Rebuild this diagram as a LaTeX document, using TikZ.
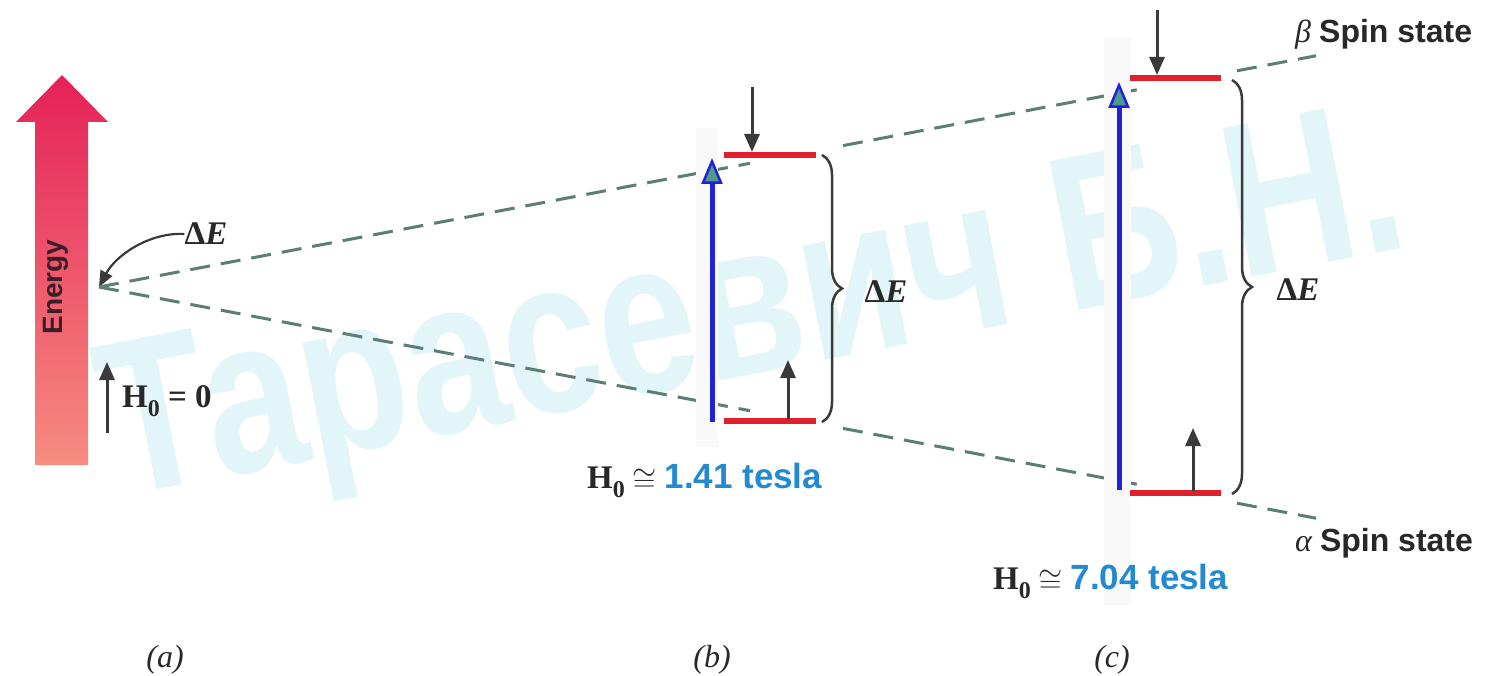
\documentclass[tikz,border=0pt]{standalone}
\usepackage{fontspec}
\setmainfont{Liberation Serif}
\newfontfamily\hel{Liberation Sans}
\usetikzlibrary{arrows.meta,decorations.pathreplacing}
\definecolor{dashc}{RGB}{93,126,118}
\definecolor{redc}{RGB}{224,32,44}
\definecolor{bluec}{RGB}{31,34,214}
\definecolor{tealc}{RGB}{78,154,140}
\definecolor{arrc}{RGB}{58,58,58}
\definecolor{txtc}{RGB}{40,40,40}
\definecolor{teslac}{RGB}{35,138,210}
\definecolor{wmc}{RGB}{226,245,249}
\definecolor{enTop}{RGB}{229,33,87}
\definecolor{enMid}{RGB}{212,46,76}
\definecolor{enBot}{RGB}{246,140,128}
\definecolor{entext}{RGB}{60,30,40}
\newcommand\myfs[1]{\fontsize{#1}{#1}\selectfont}
\newcommand\hsub[1]{\raisebox{-0.28em}{\myfs{24}#1}}
\newcommand\mycong{\hspace{0.22em}\raisebox{-0.08em}{\scalebox{1.25}{$\cong$}}\hspace{0.25em}}
\begin{document}
\begin{tikzpicture}[x=1pt,y=-1pt,
  dashln/.style={draw=dashc, line width=3pt, dash pattern=on 20pt off 11pt},
  redln/.style={draw=redc, line width=5.5pt},
  blarr/.style={draw=arrc, line width=3pt, -{Triangle[width=15pt,length=18pt,fill=arrc]}},
  bluarr/.style={draw=bluec, line width=5pt, -{Triangle[width=21pt,length=26pt,fill=tealc,line width=2.5pt]}},
  bracec/.style={draw=arrc, line width=2.5pt, decorate, decoration={brace, amplitude=20pt}},
  ghost/.style={fill=gray!5},
  lbl/.style={inner sep=0pt, text=txtc},
  serifl/.style={lbl, font=\myfs{33}\bfseries},
  capl/.style={lbl, font=\myfs{32}\itshape},
]
\useasboundingbox (0,0) rectangle (1493,676);
\fill[white] (0,0) rectangle (1493,676);
% watermark
\node[inner sep=0pt, text=wmc, anchor=base west, rotate=11, xscale=0.8] (wmark) at (116,498)
  {\myfs{220}\hel\bfseries Тарасевич Б.Н.};
% (a) energy arrow
\shade[top color=enTop, middle color=enMid, bottom color=enBot]
  (35,465) -- (35,122) -- (16,122) -- (62,75) -- (108,122) -- (88,122) -- (88,465) -- cycle;
\node[inner sep=0pt, rotate=90, text=entext, font=\myfs{28}\hel\bfseries] (energy) at (56,287) {Energy};
\coordinate (apex) at (99,287);
\node[serifl] (dEa) at (206,234) {Δ\itshape E};
\draw[draw=arrc, line width=2.2pt, -{Triangle[width=13pt,length=16pt,fill=arrc]}]
  (dEa.west) .. controls (150,232) and (116,255) .. (apex);
\coordinate (h0a) at (107,433);
\coordinate (h0b) at (107,362);
\draw[blarr] (h0a) -- (h0b);
\node[serifl, anchor=base west] (H0a) at (122,407) {H\hsub{0} = 0};
% dashed lines
\coordinate (u1) at (750,163.3);
\coordinate (u2) at (843,145.6);
\coordinate (u3) at (1140,89.2);
\coordinate (u4) at (1237,70.8);
\coordinate (u5) at (1316,55.8);
\coordinate (l1) at (750,410.7);
\coordinate (l2) at (843,428.4);
\coordinate (l3) at (1140,484.8);
\coordinate (l4) at (1237,503.2);
\coordinate (l5) at (1316,518.2);
\draw[dashln] (apex) -- (u1);
\draw[dashln] (u2) -- (u3);
\draw[dashln] (u4) -- (u5);
\draw[dashln] (apex) -- (l1);
\draw[dashln] (l2) -- (l3);
\draw[dashln] (l4) -- (l5);
% (b)
\fill[ghost] (696,128) rectangle (718,447);
\coordinate (bb0) at (712,422);
\coordinate (bb1) at (712,158);
\draw[bluarr] (bb0) -- (bb1);
\coordinate (bu0) at (724,155);
\coordinate (bu1) at (816,155);
\coordinate (bl0) at (724,421);
\coordinate (bl1) at (816,421);
\draw[redln] (bu0) -- (bu1);
\draw[redln] (bl0) -- (bl1);
\coordinate (bd0) at (752,87);
\coordinate (bd1) at (752,152);
\draw[blarr] (bd0) -- (bd1);
\coordinate (bp0) at (788,419);
\coordinate (bp1) at (788,360);
\draw[blarr] (bp0) -- (bp1);
\coordinate (bbr0) at (822,155);
\coordinate (bbr1) at (822,422);
\draw[bracec] (bbr0) -- (bbr1);
\node[serifl] (dEb) at (886,292) {Δ\itshape E};
\node[lbl, anchor=base west] (H0b) at (587,488)
  {\myfs{33}\bfseries H\hsub{0}\mycong{\hel\myfs{35}\color{teslac}1.41 tesla}};
% (c)
\fill[ghost] (1104,38) rectangle (1131,605);
\coordinate (cb0) at (1119,490);
\coordinate (cb1) at (1119,82);
\draw[bluarr] (cb0) -- (cb1);
\coordinate (cu0) at (1130,78);
\coordinate (cu1) at (1221,78);
\coordinate (cl0) at (1130,493);
\coordinate (cl1) at (1221,493);
\draw[redln] (cu0) -- (cu1);
\draw[redln] (cl0) -- (cl1);
\coordinate (cd0) at (1157,10);
\coordinate (cd1) at (1157,75);
\draw[blarr] (cd0) -- (cd1);
\coordinate (cp0) at (1193,491);
\coordinate (cp1) at (1193,428);
\draw[blarr] (cp0) -- (cp1);
\coordinate (cbr0) at (1232,80);
\coordinate (cbr1) at (1232,494);
\draw[bracec] (cbr0) -- (cbr1);
\node[serifl] (dEc) at (1298,290) {Δ\itshape E};
\node[lbl, anchor=base west] (H0c) at (993,589)
  {\myfs{33}\bfseries H\hsub{0}\mycong{\hel\myfs{35}\color{teslac}7.04 tesla}};
\node[lbl, anchor=base west] (beta) at (1295,43) {\myfs{32}\itshape β {\upshape\hel\bfseries Spin state}};
\node[lbl, anchor=base west] (alpha) at (1295,551) {\myfs{32}\itshape α {\upshape\hel\bfseries Spin state}};
% captions
\node[capl] (capa) at (165,660) {(a)};
\node[capl] (capb) at (712,660) {(b)};
\node[capl] (capc) at (1112,660) {(c)};
\end{tikzpicture}
\end{document}
